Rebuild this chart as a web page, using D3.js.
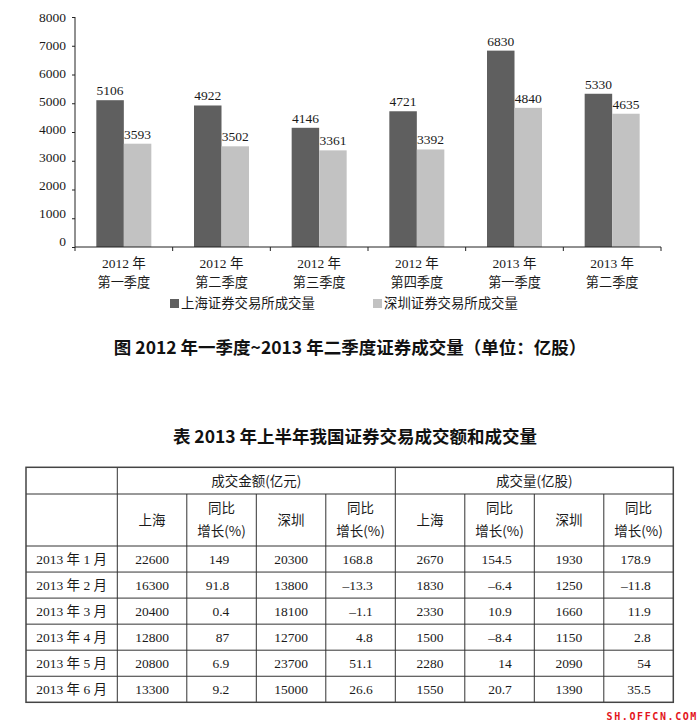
<!DOCTYPE html>
<html><head><meta charset="utf-8">
<script src="https://cdn.jsdelivr.net/npm/d3@7"></script>
<style>body{margin:0;background:#fff}</style>
</head><body>
<svg id="c" width="700" height="725"></svg>
<script>
// ---------- data ----------
const categoryYears = ["2012 年","2012 年","2012 年","2012 年","2013 年","2013 年"];
const categoryQuarters = ["第一季度","第二季度","第三季度","第四季度","第一季度","第二季度"];
const shanghaiVolume = [5106, 4922, 4146, 4721, 6830, 5330];
const shenzhenVolume = [3593, 3502, 3361, 3392, 4840, 4635];
const seriesNames = ["上海证券交易所成交量", "深圳证券交易所成交量"];
const yTicks = [0, 1000, 2000, 3000, 4000, 5000, 6000, 7000, 8000];
const chartTitle = "图 2012 年一季度~2013 年二季度证券成交量（单位：亿股）";
const tableTitle = "表 2013 年上半年我国证券交易成交额和成交量";

const tableGroups = ["成交金额(亿元)", "成交量(亿股)"];
const tableSubHeaders = [["上海"], ["同比", "增长(%)"], ["深圳"], ["同比", "增长(%)"],
                         ["上海"], ["同比", "增长(%)"], ["深圳"], ["同比", "增长(%)"]];
const months = ["2013 年 1 月","2013 年 2 月","2013 年 3 月","2013 年 4 月","2013 年 5 月","2013 年 6 月"];
const amountSH    = [22600, 16300, 20400, 12800, 20800, 13300];
const amountSHYoY = [149, 91.8, 0.4, 87, 6.9, 9.2];
const amountSZ    = [20300, 13800, 18100, 12700, 23700, 15000];
const amountSZYoY = [168.8, -13.3, -1.1, 4.8, 51.1, 26.6];
const volumeSH    = [2670, 1830, 2330, 1500, 2280, 1550];
const volumeSHYoY = [154.5, -6.4, 10.9, -8.4, 14, 20.7];
const volumeSZ    = [1930, 1250, 1660, 1150, 2090, 1390];
const volumeSZYoY = [178.9, -11.8, 11.9, 2.8, 54, 35.5];
const watermark = "SH.OFFCN.COM";

// ---------- styles ----------
const SERIF = "'Liberation Serif','Times New Roman','Noto Sans CJK SC',serif";
const SANS = "'Noto Sans CJK SC','Noto Sans',sans-serif";
const colors = ["#5f5f5f", "#c2c2c2"];
const ink = "#1a1a1a";

const svg = d3.select("#c");

// ---------- bar chart ----------
const x = d3.scaleBand().domain(d3.range(categoryYears.length)).range([75, 661]).padding(0);
const y = d3.scaleLinear().domain([0, 8000]).range([247, 17]);
// tick labels in the source sit slightly compressed relative to the ticks
const yLab = d3.scaleLinear().domain([0, 8000]).range([241, 17]);
const groupW = 55;
const inner = d3.scaleBand().domain([0, 1])
  .range([(x.bandwidth() - groupW) / 2, (x.bandwidth() + groupW) / 2]).padding(0);

const series = [shanghaiVolume, shenzhenVolume];

// y axis
const yAxis = svg.append("g").attr("transform", "translate(75,0)")
  .call(d3.axisLeft(y).tickValues(yTicks).tickSize(3).tickPadding(6).tickFormat(d3.format("d")));
yAxis.select(".domain").attr("stroke", "#222").attr("d", `M0,${y(8000)}V${y(0)}`);
yAxis.selectAll(".tick line").attr("stroke", "#222");
yAxis.selectAll(".tick text").attr("font-family", SERIF).attr("font-size", 13.5).attr("fill", ink)
  .attr("y", d => yLab(d) - y(d));

// bars
const groups = svg.append("g").selectAll("g").data(d3.range(categoryYears.length)).join("g")
  .attr("transform", i => `translate(${x(i)},0)`);
series.forEach((s, k) => {
  groups.append("rect")
    .attr("x", inner(k)).attr("width", inner.bandwidth())
    .attr("y", i => y(s[i])).attr("height", i => y(0) - y(s[i]))
    .attr("fill", colors[k]);
  groups.append("text")
    .attr("x", inner(k) + inner.bandwidth() / 2).attr("y", i => y(s[i]) - 5)
    .attr("text-anchor", "middle").attr("font-family", SERIF).attr("font-size", 13.5)
    .attr("fill", ink).text(i => s[i]);
});

// x axis
const xa = svg.append("g");
xa.append("line").attr("x1", x.range()[0]).attr("x2", x.range()[1])
  .attr("y1", y(0)).attr("y2", y(0)).attr("stroke", "#222");
const edges = d3.range(categoryYears.length).map(i => x(i)).concat([x.range()[1]]);
xa.selectAll("line.t").data(edges).join("line").attr("class", "t")
  .attr("x1", d => d).attr("x2", d => d).attr("y1", y(0)).attr("y2", y(0) + 4).attr("stroke", "#222");
const xl = xa.selectAll("g.l").data(d3.range(categoryYears.length)).join("g").attr("class", "l")
  .attr("transform", i => `translate(${x(i) + x.bandwidth() / 2},0)`);
xl.append("text").attr("y", 268).attr("text-anchor", "middle").attr("font-family", SERIF)
  .attr("font-size", 13.5).attr("fill", ink).text(i => categoryYears[i]);
xl.append("text").attr("y", 287).attr("text-anchor", "middle").attr("font-family", SANS)
  .attr("font-size", 13.2).attr("fill", ink).text(i => categoryQuarters[i]);

// legend
const legendX = [170, 373];
seriesNames.forEach((n, k) => {
  const g = svg.append("g").attr("transform", `translate(${legendX[k]},299)`);
  g.append("rect").attr("width", 9).attr("height", 9).attr("fill", colors[k]);
  g.append("text").attr("x", 11).attr("y", 9).attr("font-family", SANS).attr("font-size", 13.4)
    .attr("fill", ink).text(n);
});

// titles
svg.append("text").attr("x", 350).attr("y", 354).attr("text-anchor", "middle")
  .attr("font-family", SANS).attr("font-weight", "bold").attr("font-size", 17.5)
  .attr("fill", "#111").text(chartTitle);
svg.append("text").attr("x", 355).attr("y", 443).attr("text-anchor", "middle")
  .attr("font-family", SANS).attr("font-weight", "bold").attr("font-size", 17.5)
  .attr("fill", "#111").text(tableTitle);

// ---------- table ----------
const tLeft = 26, tFirst = 117.3, tRight = 673.3;
const tTop = 467.3, tH1 = 494, tH2 = 546, tBottom = 702.3;
const col = d3.scaleBand().domain(d3.range(8)).range([tFirst, tRight]);
const row = d3.scaleBand().domain(d3.range(months.length)).range([tH2, tBottom]);
const tbl = svg.append("g");
const line = (x1, y1, x2, y2, w) => tbl.append("line").attr("x1", x1).attr("y1", y1)
  .attr("x2", x2).attr("y2", y2).attr("stroke", "#333").attr("stroke-width", w || 1);

// horizontals
line(tLeft, tH1, tRight, tH1);
line(tLeft, tH2, tRight, tH2);
d3.range(1, months.length).forEach(r => line(tLeft, row(r), tRight, row(r)));
// verticals
line(tFirst, tTop, tFirst, tBottom);
line(col(4), tTop, col(4), tBottom);
[1, 2, 3, 5, 6, 7].forEach(c => line(col(c), tH1, col(c), tBottom));
// outer border
tbl.append("rect").attr("x", tLeft).attr("y", tTop).attr("width", tRight - tLeft)
  .attr("height", tBottom - tTop).attr("fill", "none").attr("stroke", "#444").attr("stroke-width", 1.5);

// header row 1
tableGroups.forEach((g, k) => {
  const cx = (col(k * 4) + col(k * 4 + 3) + col.bandwidth()) / 2;
  tbl.append("text").attr("x", cx).attr("y", 485.5).attr("text-anchor", "middle")
    .attr("font-family", SANS).attr("font-size", 13.5).attr("fill", ink).text(g);
});
// header row 2
tableSubHeaders.forEach((lines, c) => {
  const cx = col(c) + col.bandwidth() / 2;
  const ys = lines.length === 1 ? [524.5] : [513, 535.5];
  lines.forEach((t, j) => tbl.append("text").attr("x", cx).attr("y", ys[j]).attr("text-anchor", "middle")
    .attr("font-family", SANS).attr("font-size", 13.5).attr("fill", ink).text(t));
});

// body
const fmt = v => v < 0 ? "–" + Math.abs(v) : String(v);
const columns = [amountSH, amountSHYoY, amountSZ, amountSZYoY, volumeSH, volumeSHYoY, volumeSZ, volumeSZYoY];
const yoyPad = [0, 27, 0, 22.5, 0, 22.5, 0, 22.5];
months.forEach((m, r) => {
  const cy = row(r) + row.bandwidth() / 2 + 5;
  tbl.append("text").attr("x", (tLeft + tFirst) / 2).attr("y", cy).attr("text-anchor", "middle")
    .attr("font-family", SERIF).attr("font-size", 13.5).attr("fill", ink).text(m);
  columns.forEach((arr, c) => {
    const yo = c % 2 === 1;
    tbl.append("text")
      .attr("x", yo ? col(c) + col.bandwidth() - yoyPad[c] : col(c) + col.bandwidth() / 2)
      .attr("y", cy).attr("text-anchor", yo ? "end" : "middle")
      .attr("font-family", SERIF).attr("font-size", 13.5).attr("fill", ink).text(fmt(arr[r]));
  });
});

// watermark
svg.append("text").attr("x", 698).attr("y", 720).attr("text-anchor", "end")
  .attr("font-family", "'DejaVu Sans Mono',monospace").attr("font-weight", "bold")
  .attr("font-size", 10).attr("letter-spacing", 1.6).attr("fill", "#e3141b").text(watermark);
</script>
</body></html>
